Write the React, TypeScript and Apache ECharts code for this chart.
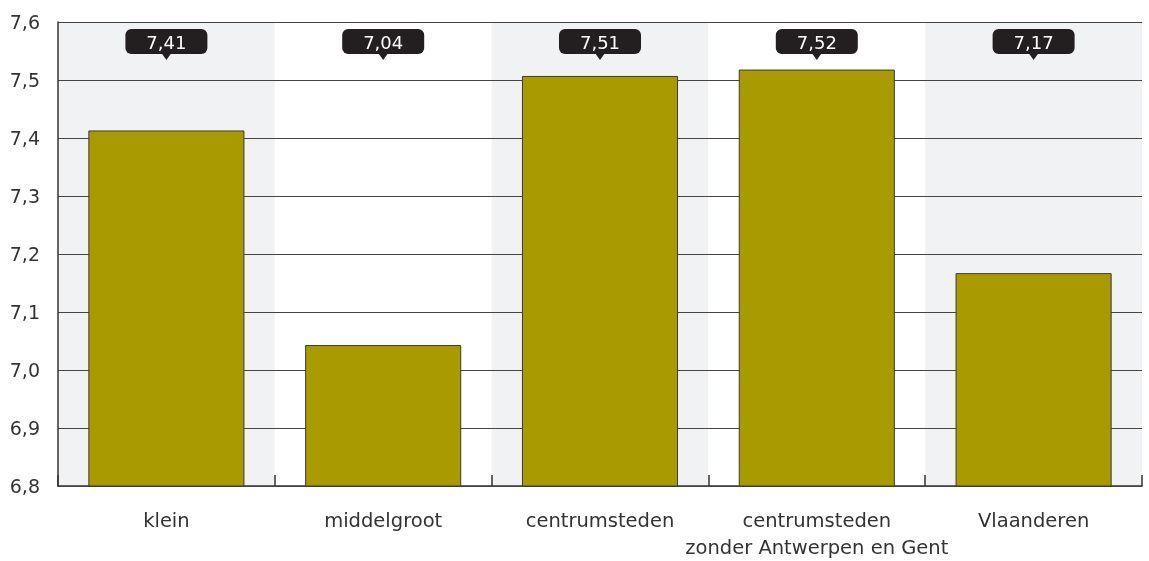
import React, { useEffect, useRef } from "react";
import * as echarts from "echarts";

const categories = ["klein", "middelgroot", "centrumsteden", "centrumsteden\nzonder Antwerpen en Gent", "Vlaanderen"];
const values = [7.413, 7.043, 7.507, 7.518, 7.167];
const yMin = 6.8;
const yMax = 7.6;
const yInterval = 0.1;

const FONT = "DejaVu Sans";
const fmt = (v: number, d: number) => v.toFixed(d).replace(".", ",");

export default function App() {
  const ref = useRef<HTMLDivElement>(null);
  useEffect(() => {
    if (!ref.current) return;
    const chart = echarts.init(ref.current, undefined, { renderer: "svg" });
    chart.setOption({
      animation: false,
      grid: { left: 58, right: 7, top: 22, bottom: 74, containLabel: false },
      xAxis: {
        type: "category",
        data: categories,
        z: 0,
        axisLine: { show: true, lineStyle: { color: "#333", width: 1.5 } },
        axisTick: { show: true, inside: true, length: 11, lineStyle: { color: "#333", width: 1.5 } },
        axisLabel: { color: "#333", fontSize: 19.5, fontFamily: FONT, margin: 21, lineHeight: 27, interval: 0 },
        splitArea: { show: true, areaStyle: { color: ["#f1f2f4", "#ffffff"] } },
        splitLine: { show: false },
      },
      yAxis: {
        type: "value",
        min: yMin,
        max: yMax,
        interval: yInterval,
        z: 1,
        axisLine: { show: true, lineStyle: { color: "#333", width: 1.5 } },
        axisTick: { show: false },
        axisLabel: { color: "#333", fontSize: 19, fontFamily: FONT, margin: 18, formatter: (v: number) => fmt(v, 1) },
        splitLine: { show: true, lineStyle: { color: "#444", width: 1 } },
      },
      series: [
        {
          type: "bar",
          data: values,
          barWidth: "72%",
          itemStyle: { color: "#a89a00", borderColor: "#3a3a3a", borderWidth: 1 },
          z: 2,
        },
        {
          type: "custom",
          data: values.map((v, i) => [i, v]),
          z: 5,
          renderItem: (params: any, api: any) => {
            const idx = api.value(0);
            const v = api.value(1);
            const pt = api.coord([idx, yMax]);
            const cx = pt[0];
            const top = pt[1] + 7;
            const w = 82;
            const h = 25;
            return {
              type: "group",
              children: [
                {
                  type: "rect",
                  shape: { x: cx - w / 2, y: top, width: w, height: h, r: 6 },
                  style: { fill: "#231f20" },
                },
                {
                  type: "polygon",
                  shape: { points: [[cx - 5, top + h - 1], [cx + 5, top + h - 1], [cx, top + h + 6]] },
                  style: { fill: "#231f20" },
                },
                {
                  type: "text",
                  style: {
                    text: fmt(v, 2),
                    x: cx,
                    y: top + h / 2 + 1,
                    align: "center",
                    verticalAlign: "middle",
                    fill: "#ffffff",
                    font: `18px "${FONT}"`,
                  },
                },
              ],
            };
          },
        },
      ],
    });
    return () => chart.dispose();
  }, []);
  return <div ref={ref} style={{ position: "fixed", left: 0, top: 0, width: 1149, height: 561 }} />;
}
